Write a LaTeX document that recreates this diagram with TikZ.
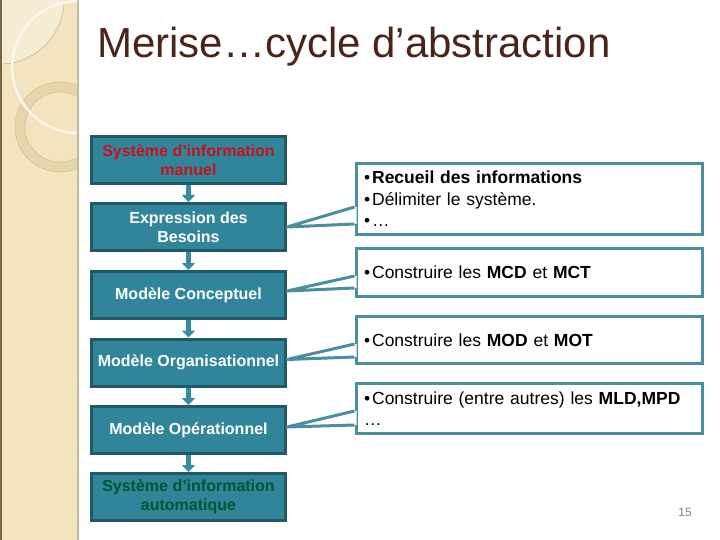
\documentclass[tikz,border=0pt]{standalone}
\usepackage{fontspec}
\setmainfont{Liberation Sans}
\usetikzlibrary{arrows.meta}

\definecolor{tealfill}{RGB}{49,133,155}
\definecolor{tealdark}{RGB}{33,89,104}
\definecolor{tealline}{RGB}{74,142,160}
\definecolor{arrowteal}{RGB}{55,140,165}
\definecolor{redtext}{RGB}{200,16,30}
\definecolor{greentext}{RGB}{0,85,45}
\definecolor{titlebrown}{RGB}{74,36,24}
\definecolor{stripbeige}{RGB}{243,227,190}
\definecolor{stripedge}{RGB}{200,185,150}
\definecolor{stripdark}{RGB}{120,100,70}
\definecolor{ringtan}{RGB}{230,212,170}
\definecolor{lightbeige}{RGB}{246,236,212}

\begin{document}
\begin{tikzpicture}[x=1pt, y=-1pt,
		stepbox/.style={draw=tealdark, line width=3pt, fill=tealfill,
			minimum width=194pt, minimum height=47pt, inner sep=2pt,
			align=center, text=white, font=\fontsize{16}{19}\selectfont\bfseries},
		notebox/.style={draw=tealline, line width=3pt, fill=white,
			text width=330pt, inner xsep=8pt, align=left,
			font=\fontsize{17.5}{21.5}\selectfont},
		flowarrow/.style={arrowteal, line width=5pt, -{Triangle[width=13pt,length=7pt]}},
		callline/.style={tealline, line width=3pt, line join=round}]
	\useasboundingbox (0,0) rectangle (720,540);

	% Left strip
	\fill[stripbeige] (0,0) rectangle (78,540);
	\begin{scope}
		\clip (0,0) rectangle (78,540);
		\fill[lightbeige] (0,0) circle (64pt);
		\draw[stripedge, line width=0.6pt] (0,0) circle (64pt);
		\draw[ringtan, line width=10pt] (60,127) circle (40pt);
		\draw[stripedge, line width=0.4pt] (60,127) circle (45pt);
		\draw[stripedge, line width=0.4pt] (60,127) circle (35pt);
		\draw[white!70!stripbeige, line width=2.5pt] (78,67) circle (66pt);
	\end{scope}
	\draw[stripedge, line width=2pt] (78,0) -- (78,540);
	\draw[stripdark, line width=1.5pt] (0.75,0) -- (0.75,540);

	% Title
	\node[anchor=base west, inner sep=0pt, text=titlebrown,
		font=\fontsize{42}{42}\selectfont] (title) at (97,58) {Merise…cycle d’abstraction};

	% Cycle
	\node[stepbox, text=redtext] (b1) at (188.5,160) {Système d’information\\manuel};
	\node[stepbox] (b2) at (188.5,227) {Expression des\\Besoins};
	\node[stepbox] (b3) at (188.5,295) {Modèle Conceptuel};
	\node[stepbox] (b4) at (188.5,362.5) {Modèle Organisationnel};
	\node[stepbox] (b5) at (188.5,430) {Modèle Opérationnel};
	\node[stepbox, text=greentext] (b6) at (188.5,497) {Système d’information\\automatique};

	\draw[flowarrow] (b1) -- (b2);
	\draw[flowarrow] (b2) -- (b3);
	\draw[flowarrow] (b3) -- (b4);
	\draw[flowarrow] (b4) -- (b5);
	\draw[flowarrow] (b5) -- (b6);

	% Notes
	\node[notebox, minimum height=71pt] (r1) at (529,199)
		{•\kern2pt\textbf{Recueil des informations}\\•\kern2pt Délimiter le système.\\•\kern2pt…};
	\node[notebox, minimum height=48pt] (r2) at (529,272.5)
		{•\kern2pt Construire les \textbf{MCD} et \textbf{MCT}};
	\node[notebox, minimum height=47pt] (r3) at (529,340)
		{•\kern2pt Construire les \textbf{MOD} et \textbf{MOT}};
	\node[notebox, minimum height=50pt] (r4) at (529,408.5)
		{•\kern2pt Construire (entre autres) les \textbf{MLD,MPD}\\…};

	% Callout pointers
	\coordinate (s1) at (b2.east);
	\coordinate (s2) at ([yshift=4pt]b3.east);
	\coordinate (s3) at ([yshift=3pt]b4.east);
	\coordinate (s4) at ([yshift=3pt]b5.east);
	\coordinate (p1a) at ([yshift=-8pt]r1.west);
	\coordinate (p1b) at ([yshift=-25pt]r1.west);
	\coordinate (p2a) at ([yshift=-3.5pt]r2.west);
	\coordinate (p2b) at ([yshift=-15.5pt]r2.west);
	\coordinate (p3a) at ([yshift=-4pt]r3.west);
	\coordinate (p3b) at ([yshift=-17pt]r3.west);
	\coordinate (p4a) at ([yshift=-2.5pt]r4.west);
	\coordinate (p4b) at ([yshift=-16.5pt]r4.west);

	\fill[white] (s1) -- (p1a) -- ([xshift=2pt]p1a) -- ([xshift=2pt]p1b) -- (p1b) -- cycle;
	\fill[white] (s2) -- (p2a) -- ([xshift=2pt]p2a) -- ([xshift=2pt]p2b) -- (p2b) -- cycle;
	\fill[white] (s3) -- (p3a) -- ([xshift=2pt]p3a) -- ([xshift=2pt]p3b) -- (p3b) -- cycle;
	\fill[white] (s4) -- (p4a) -- ([xshift=2pt]p4a) -- ([xshift=2pt]p4b) -- (p4b) -- cycle;
	\draw[callline] (p1a) -- (s1) -- (p1b);
	\draw[callline] (p2a) -- (s2) -- (p2b);
	\draw[callline] (p3a) -- (s3) -- (p3b);
	\draw[callline] (p4a) -- (s4) -- (p4b);

	% Page number
	\node[text=gray, font=\fontsize{12}{12}\selectfont] (page) at (685,512) {15};
\end{tikzpicture}
\end{document}
